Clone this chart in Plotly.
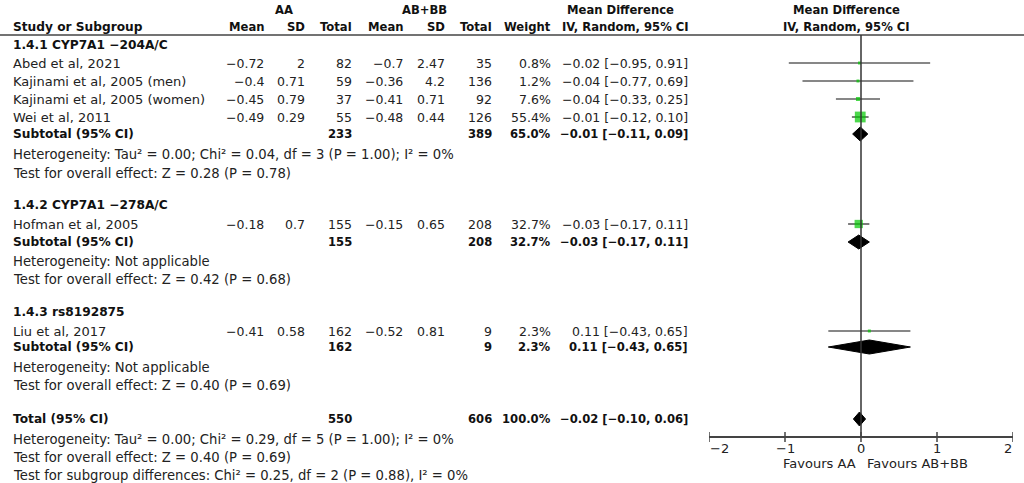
import numpy as np
from plotly import graph_objects as go

# ---- data ----
groups = ["1.4.1 CYP7A1 −204A/C", "1.4.2 CYP7A1 −278A/C", "1.4.3 rs8192875"]

studies = ["Abed et al, 2021", "Kajinami et al, 2005 (men)", "Kajinami et al, 2005 (women)",
           "Wei et al, 2011", "Hofman et al, 2005", "Liu et al, 2017"]
aa_mean = ["−0.72", "−0.4", "−0.45", "−0.49", "−0.18", "−0.41"]
aa_sd = ["2", "0.71", "0.79", "0.29", "0.7", "0.58"]
aa_total = [82, 59, 37, 55, 155, 162]
ab_mean = ["−0.7", "−0.36", "−0.41", "−0.48", "−0.15", "−0.52"]
ab_sd = ["2.47", "4.2", "0.71", "0.44", "0.65", "0.81"]
ab_total = [35, 136, 92, 126, 208, 9]
weight = [0.8, 1.2, 7.6, 55.4, 32.7, 2.3]
md = [-0.02, -0.04, -0.04, -0.01, -0.03, 0.11]
md_lo = [-0.95, -0.77, -0.33, -0.12, -0.17, -0.43]
md_hi = [0.91, 0.69, 0.25, 0.10, 0.11, 0.65]

sub_aa_total = [233, 155, 162]
sub_ab_total = [389, 208, 9]
sub_weight = [65.0, 32.7, 2.3]
sub_md = [-0.01, -0.03, 0.11]
sub_lo = [-0.11, -0.17, -0.43]
sub_hi = [0.09, 0.11, 0.65]
sub_het = ["Heterogeneity: Tau² = 0.00; Chi² = 0.04, df = 3 (P = 1.00); I² = 0%",
           "Heterogeneity: Not applicable",
           "Heterogeneity: Not applicable"]
sub_test = ["Test for overall effect: Z = 0.28 (P = 0.78)",
            "Test for overall effect: Z = 0.42 (P = 0.68)",
            "Test for overall effect: Z = 0.40 (P = 0.69)"]

tot_aa, tot_ab, tot_weight = 550, 606, 100.0
tot_md, tot_lo, tot_hi = -0.02, -0.10, 0.06
tot_notes = ["Heterogeneity: Tau² = 0.00; Chi² = 0.29, df = 5 (P = 1.00); I² = 0%",
             "Test for overall effect: Z = 0.40 (P = 0.69)",
             "Test for subgroup differences: Chi² = 0.25, df = 2 (P = 0.88), I² = 0%"]

tick_vals = [-2, -1, 0, 1, 2]
tick_text = ["−2", "−1", "0", "1", "2"]

# ---- layout (pixel rows / columns of the 1024x483 page) ----
W, H = 1024, 483
group_rows = [45, 205, 312]
study_rows = [63, 81, 99, 117, 224, 331]
sub_rows = [134, 242, 347]
het_rows = [154, 261, 367]
test_rows = [173, 279, 385]
total_row = 419
tot_note_rows = [439, 457, 475]
axis_y = 437
line_y = 35
plot_x0, plot_x1 = 709, 1013

col_x = dict(name=12, aa_mean=265, aa_sd=306, aa_tot=353, ab_mean=404, ab_sd=446,
             ab_tot=493, weight=552, ci=689)

FONT = "DejaVu Sans"
FS_TXT = 13      # study names
FS_NOTE = 13.2   # heterogeneity / test lines
FS_NUM = 12.5    # numeric cells
FS_BOLD = 11.6   # bold cells (DejaVu bold runs wide)
TXT = "#222"
BOLD = "#111"
GREEN = "#00c800"


def fmt(v):
    return f"{v:.2f}".replace("-", "−")


def ci_text(m, lo, hi):
    return f"{fmt(m)} [{fmt(lo)}, {fmt(hi)}]"


annotations = []


def txt(x, y, s, anchor="left", bold=False, size=None):
    if size is None:
        size = FS_BOLD if bold else FS_NUM
    if bold:
        s = f"<b>{s}</b>"
    annotations.append(dict(x=x / W, y=y, xref="paper", yref="y", text=s,
                            showarrow=False, xanchor=anchor, yanchor="middle", borderpad=0,
                            font=dict(family=FONT, size=size, color=BOLD if bold else TXT)))


# headers
txt(284, 10, "AA", "center", True)
txt(424, 10, "AB+BB", "center", True)
txt(620, 10, "Mean Difference", "center", True)
txt(625, 27, "IV, Random, 95% CI", "center", True)
txt(846, 10, "Mean Difference", "center", True)
txt(846, 27, "IV, Random, 95% CI", "center", True)
txt(col_x["name"], 27, "Study or Subgroup", "left", True, size=12.2)
for key, lab in [("aa_mean", "Mean"), ("aa_sd", "SD"), ("aa_tot", "Total"),
                 ("ab_mean", "Mean"), ("ab_sd", "SD"), ("ab_tot", "Total"), ("weight", "Weight")]:
    txt(col_x[key], 27, lab, "right", True)

for g, name in enumerate(groups):
    txt(col_x["name"], group_rows[g], name, "left", True, size=12.2)
    r = sub_rows[g]
    txt(col_x["name"], r, "Subtotal (95% CI)", "left", True, size=12.2)
    txt(col_x["aa_tot"], r, str(sub_aa_total[g]), "right", True)
    txt(col_x["ab_tot"], r, str(sub_ab_total[g]), "right", True)
    txt(col_x["weight"], r, f"{sub_weight[g]:.1f}%", "right", True)
    txt(col_x["ci"], r, ci_text(sub_md[g], sub_lo[g], sub_hi[g]), "right", True)
    txt(col_x["name"], het_rows[g], sub_het[g], size=FS_NOTE)
    txt(col_x["name"], test_rows[g], sub_test[g], size=FS_NOTE)

for i, s in enumerate(studies):
    r = study_rows[i]
    txt(col_x["name"], r, s, size=FS_TXT)
    txt(col_x["aa_mean"], r, aa_mean[i], "right")
    txt(col_x["aa_sd"], r, aa_sd[i], "right")
    txt(col_x["aa_tot"], r, str(aa_total[i]), "right")
    txt(col_x["ab_mean"], r, ab_mean[i], "right")
    txt(col_x["ab_sd"], r, ab_sd[i], "right")
    txt(col_x["ab_tot"], r, str(ab_total[i]), "right")
    txt(col_x["weight"], r, f"{weight[i]:.1f}%", "right")
    txt(col_x["ci"], r, ci_text(md[i], md_lo[i], md_hi[i]), "right")

txt(col_x["name"], total_row, "Total (95% CI)", "left", True, size=12.2)
txt(col_x["aa_tot"], total_row, str(tot_aa), "right", True)
txt(col_x["ab_tot"], total_row, str(tot_ab), "right", True)
txt(col_x["weight"], total_row, f"{tot_weight:.1f}%", "right", True)
txt(col_x["ci"], total_row, ci_text(tot_md, tot_lo, tot_hi), "right", True)
for note, r in zip(tot_notes, tot_note_rows):
    txt(col_x["name"], r, note, size=FS_NOTE)

# axis tick labels (edge labels kept inside the axis span, as in the source)
for k, (v, t) in enumerate(zip(tick_vals, tick_text)):
    anchor = "left" if k == 0 else ("right" if k == len(tick_vals) - 1 else "center")
    annotations.append(dict(x=v, y=448, xref="x", yref="y", text=t, showarrow=False,
                            xanchor=anchor, yanchor="middle", borderpad=0,
                            font=dict(family=FONT, size=FS_TXT, color=TXT)))

# favours labels under the axis (anchored at x = 0 of the forest axis)
annotations.append(dict(x=0, y=463, xref="x", yref="y", text="Favours AA", showarrow=False,
                        xanchor="right", xshift=-4, borderpad=0,
                        font=dict(family=FONT, size=FS_TXT, color=TXT)))
annotations.append(dict(x=0, y=463, xref="x", yref="y", text="Favours AB+BB",
                        showarrow=False, xanchor="left", xshift=5, borderpad=0,
                        font=dict(family=FONT, size=FS_TXT, color=TXT)))

fig = go.Figure()

# CI lines
for i in range(len(studies)):
    fig.add_trace(go.Scatter(x=[md_lo[i], md_hi[i]], y=[study_rows[i]] * 2, mode="lines",
                             line=dict(color="#111", width=1.1), showlegend=False,
                             hoverinfo="skip"))

# weight squares
fig.add_trace(go.Scatter(x=md, y=study_rows, mode="markers",
                         marker=dict(symbol="square", color=GREEN,
                                     size=[max(3, 1.45 * np.sqrt(w)) for w in weight],
                                     line=dict(width=0)),
                         showlegend=False))


def diamond(m, lo, hi, r, h=7):
    fig.add_trace(go.Scatter(x=[lo, m, hi, m, lo], y=[r, r - h, r, r + h, r], mode="lines",
                             fill="toself", fillcolor="black", line=dict(color="black", width=1),
                             showlegend=False, hoverinfo="skip"))


for g in range(len(groups)):
    diamond(sub_md[g], sub_lo[g], sub_hi[g], sub_rows[g])
diamond(tot_md, tot_lo, tot_hi, total_row)

shapes = [
    dict(type="line", xref="paper", yref="y", x0=0, x1=1, y0=line_y, y1=line_y,
         line=dict(color="#444", width=1.5)),
    dict(type="line", xref="x", yref="y", x0=0, x1=0, y0=line_y, y1=axis_y,
         line=dict(color="#333", width=1.5)),
]
for v in tick_vals:
    shapes.append(dict(type="line", xref="x", yref="y", x0=v, x1=v,
                       y0=axis_y - 5, y1=axis_y + 5,
                       line=dict(color="#444", width=1.5)))

fig.update_layout(
    width=W, height=H,
    margin=dict(l=0, r=0, t=0, b=0),
    plot_bgcolor="white", paper_bgcolor="white",
    annotations=annotations, shapes=shapes,
    xaxis=dict(domain=[plot_x0 / W, plot_x1 / W], range=[-2, 2], anchor="free",
               position=1 - axis_y / H, showline=True, linecolor="#444", linewidth=1.5,
               showgrid=False, zeroline=False, tickvals=tick_vals, ticks="",
               showticklabels=False),
    yaxis=dict(domain=[0, 1], range=[H, 0], visible=False, showgrid=False, zeroline=False),
)

# the default page has an 8px body margin; drop it so the figure sits at the page origin
fig.write_html("out.html", config={"displayModeBar": False},
               post_script="document.body.style.margin = '0';")
